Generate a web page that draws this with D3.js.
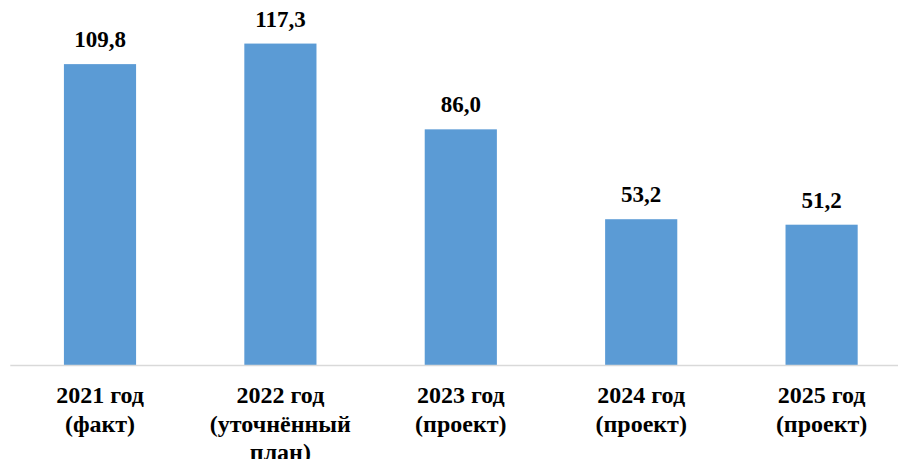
<!DOCTYPE html>
<html>
<head>
<meta charset="utf-8">
<script src="https://cdn.jsdelivr.net/npm/d3@7"></script>
<style>
  html, body { margin: 0; padding: 0; background: #ffffff; }
  svg { display: block; }
</style>
</head>
<body>
<svg id="chart" width="898" height="459"></svg>
<script>
// Budget volumes by year
const categories = [
  ["2021 год", "(факт)"],
  ["2022 год", "(уточнённый", "план)"],
  ["2023 год", "(проект)"],
  ["2024 год", "(проект)"],
  ["2025 год", "(проект)"]
];
const values = [109.8, 117.3, 86.0, 53.2, 51.2];
const valueLabels = ["109,8", "117,3", "86,0", "53,2", "51,2"];

const FONT = "'Liberation Serif', 'Times New Roman', serif";

const svg = d3.select("#chart");
const baseY = 365;

const x = d3.scaleBand()
  .domain(d3.range(values.length))
  .range([9.8, 911.8])
  .paddingInner(0.6)
  .paddingOuter(0.3);

const y = d3.scaleLinear()
  .domain([0, 133.2])
  .range([baseY, 0]);

// bars
svg.selectAll("rect.bar")
  .data(values)
  .join("rect")
  .attr("class", "bar")
  .attr("x", (d, i) => x(i))
  .attr("y", d => y(d))
  .attr("width", x.bandwidth())
  .attr("height", d => y(0) - y(d))
  .attr("fill", "#5B9BD5");

// category axis
const axis = svg.append("g")
  .attr("transform", `translate(0,${baseY})`)
  .call(d3.axisBottom(x).tickSize(0).tickFormat(""));
axis.select(".domain").attr("stroke", "#D9D9D9").attr("stroke-width", 1.5);

// category labels
const cat = svg.selectAll("text.cat")
  .data(categories)
  .join("text")
  .attr("class", "cat")
  .attr("text-anchor", "middle")
  .attr("font-family", FONT)
  .attr("font-weight", "bold")
  .attr("font-size", 24)
  .attr("fill", "#000")
  .attr("x", (d, i) => x(i) + x.bandwidth() / 2)
  .attr("y", 403);
cat.selectAll("tspan")
  .data(d => d)
  .join("tspan")
  .attr("x", function () { return this.parentNode.getAttribute("x"); })
  .attr("dy", (d, j) => j === 0 ? 0 : 28.5)
  .text(d => d);

// value labels
svg.selectAll("text.val")
  .data(values)
  .join("text")
  .attr("class", "val")
  .attr("text-anchor", "middle")
  .attr("font-family", FONT)
  .attr("font-weight", "bold")
  .attr("font-size", 23)
  .attr("fill", "#000")
  .attr("x", (d, i) => x(i) + x.bandwidth() / 2)
  .attr("y", d => y(d) - 17)
  .text((d, i) => valueLabels[i]);
</script>
</body>
</html>
